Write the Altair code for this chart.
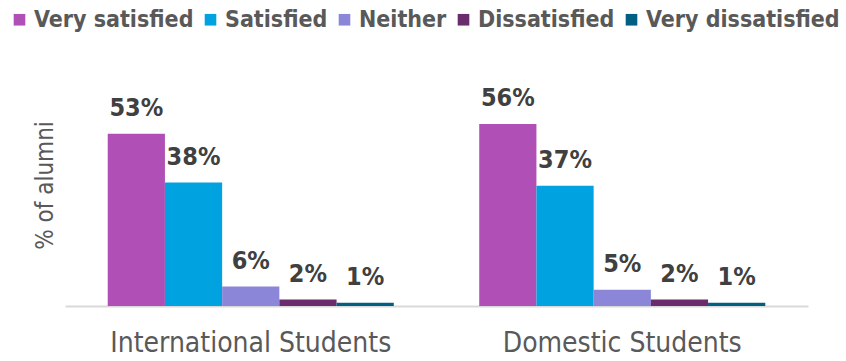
import altair as alt
import pandas as pd

groups = ["International Students", "Domestic Students"]
categories = ["Very satisfied", "Satisfied", "Neither", "Dissatisfied", "Very dissatisfied"]
intl_values = [53, 38, 6, 2, 1]
dom_values = [56, 37, 5, 2, 1]
colors = ["#B04FB5", "#00A3E0", "#8B86D8", "#6B2C6E", "#005F83"]

rows = []
for g, vals in zip(groups, [intl_values, dom_values]):
    for c, v in zip(categories, vals):
        rows.append({"group": g, "category": c, "value": v, "label": f"{v}%"})
df = pd.DataFrame(rows)

FONT = "DejaVu Sans Condensed, Liberation Sans Narrow, DejaVu Sans"

base = alt.Chart(df).encode(
    x=alt.X("group:N", sort=groups, title=None,
            scale=alt.Scale(paddingInner=0.23, paddingOuter=0.115),
            axis=alt.Axis(labelAngle=0, labelFontSize=28, labelColor="#595959",
                          labelFont=FONT, labelPadding=23, ticks=False, labelLimit=0,
                          domainColor="#D9D9D9", domainWidth=2)),
    xOffset=alt.XOffset("category:N", sort=categories),
    y=alt.Y("value:Q", scale=alt.Scale(domain=[0, 60]),
            axis=alt.Axis(title="% of alumni", labels=False, ticks=False, domain=False,
                          grid=False, titleFontSize=24, titleColor="#595959",
                          titleFontWeight="normal", titleFont=FONT,
                          titleX=-20, titleY=74, titleAngle=270,
                          titleAlign="center", titleBaseline="middle")),
)

bars = base.mark_bar().encode(
    color=alt.Color("category:N", sort=categories,
                    scale=alt.Scale(domain=categories, range=colors),
                    legend=alt.Legend(title=None, orient="none", direction="horizontal",
                                      legendX=-57, legendY=-103, symbolType="square",
                                      symbolSize=135, symbolStrokeWidth=0,
                                      labelFontSize=23, labelFontWeight="bold",
                                      labelColor="#595959", labelFont=FONT, labelLimit=0,
                                      columnPadding=5, symbolOffset=0, labelOffset=3))
)

text = base.mark_text(baseline="alphabetic", dy=-18, fontSize=25, fontWeight="bold",
                      color="#404040", font=FONT).encode(text="label:N")

chart = (bars + text).properties(
    width=743, height=195,
    autosize=alt.AutoSizeParams(type="none"),
    padding={"left": 65, "top": 111, "right": 38, "bottom": 55},
).configure_view(stroke=None)

chart.save("out.html", embed_options={"renderer": "svg", "actions": False})
